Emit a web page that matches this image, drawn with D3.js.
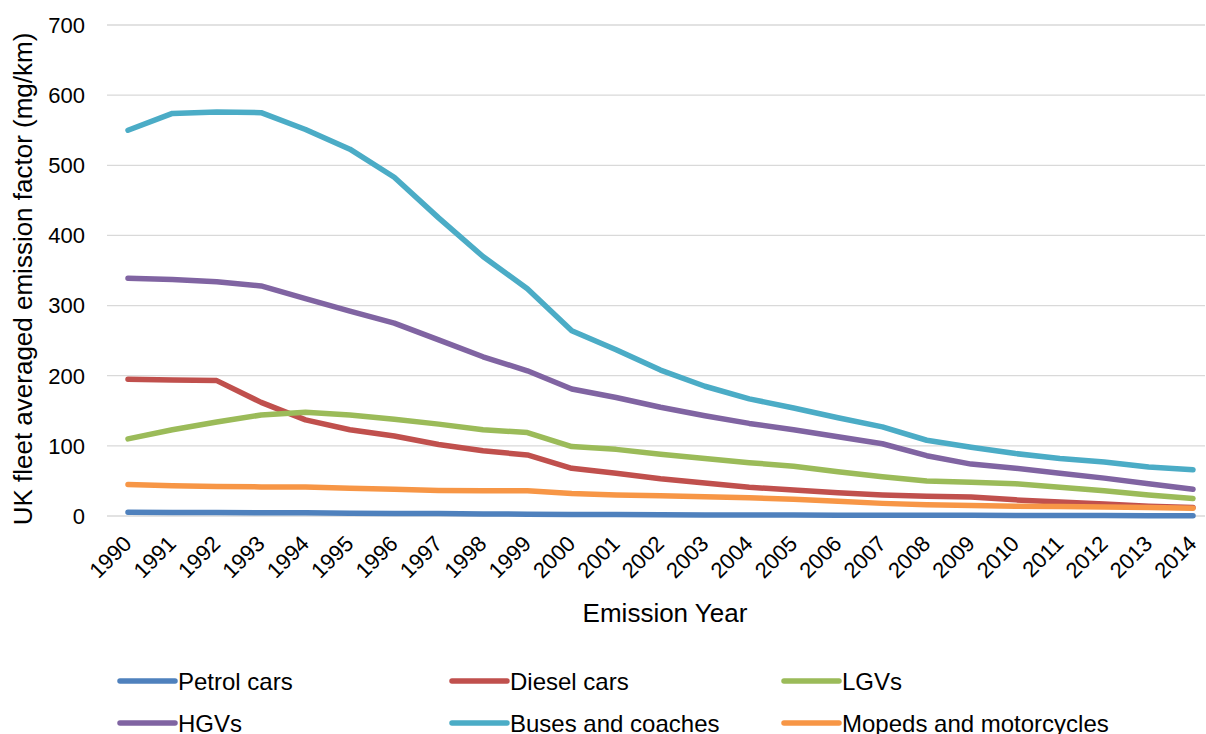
<!DOCTYPE html>
<html>
<head>
<meta charset="utf-8">
<script src="https://cdn.jsdelivr.net/npm/d3@7"></script>
<style>
  body { margin: 0; background: #fff; }
  text { font-family: "Liberation Sans", Arial, sans-serif; fill: #000; }
</style>
</head>
<body>
<div class="vis-chart"></div>
<script>
const years = d3.range(1990, 2015).map(String)
const yTicks = [0, 100, 200, 300, 400, 500, 600, 700]

const seriesNames = ['Petrol cars', 'Diesel cars', 'LGVs', 'HGVs', 'Buses and coaches', 'Mopeds and motorcycles']
const seriesColors = ['#4F81BD', '#C0504D', '#9BBB59', '#8064A2', '#4BACC6', '#F79646']

const petrol = [5.5, 5, 5, 4.5, 4.5, 4, 3.5, 3.5, 3, 2.5, 2, 2, 1.8, 1.6, 1.5, 1.3, 1.2, 1.1, 1, 0.9, 0.8, 0.7, 0.6, 0.5, 0.5]
const diesel = [195, 194, 193, 162, 137, 123, 114, 102, 93, 87, 68, 61, 53, 47, 41, 37, 33, 30, 28, 27, 23, 20, 17, 14, 12]
const lgvs = [110, 123, 134, 144, 148, 144, 138, 131, 123, 119, 99, 95, 88, 82, 76, 71, 63, 56, 50, 48, 46, 41, 36, 30, 25]
const hgvs = [339, 337, 334, 328, 310, 292, 275, 251, 227, 207, 181, 169, 155, 143, 132, 123, 113, 103, 86, 74, 68, 61, 54, 46, 38]
const buses = [550, 574, 576, 575, 551, 523, 483, 425, 370, 324, 264, 237, 208, 185, 167, 154, 140, 127, 108, 98, 89, 82, 77, 70, 66]
const mopeds = [45, 43, 42, 41.5, 41.5, 39.5, 38, 36.5, 36, 36, 32, 30, 29, 27.5, 26, 24, 21, 18, 16, 15, 14, 13.5, 13, 12, 11]

const seriesValues = [petrol, diesel, lgvs, hgvs, buses, mopeds]

const width = 1206, height = 734
const grid = { left: 107, right: 1205 }

const svg = d3.select('.vis-chart').append('svg')
    .attr('width', width)
    .attr('height', height)

const xScale = d3.scalePoint()
    .domain(years)
    .range([128, 1193])

const yScale = d3.scaleLinear()
    .domain([0, 700])
    .range([516, 25])

// gridlines
svg.append('g')
    .selectAll('line')
    .data(yTicks)
    .enter().append('line')
    .attr('x1', grid.left)
    .attr('x2', grid.right)
    .attr('y1', d => yScale(d))
    .attr('y2', d => yScale(d))
    .attr('stroke', '#d9d9d9')
    .attr('stroke-width', 1.3)

// y tick labels
svg.append('g')
    .selectAll('text')
    .data(yTicks)
    .enter().append('text')
    .attr('x', 85)
    .attr('y', d => yScale(d))
    .attr('dy', '0.36em')
    .attr('text-anchor', 'end')
    .style('font-size', '22px')
    .text(d => d)

// x tick labels, rotated
svg.append('g')
    .selectAll('text')
    .data(years)
    .enter().append('text')
    .attr('text-anchor', 'end')
    .attr('transform', d => 'translate(' + (xScale(d) + 5) + ',545)rotate(-45)')
    .style('font-size', '22px')
    .text(d => d)

// axis titles
svg.append('text')
    .attr('text-anchor', 'middle')
    .attr('transform', 'translate(32,279)rotate(-90)')
    .style('font-size', '26px')
    .text('UK fleet averaged emission factor (mg/km)')

svg.append('text')
    .attr('text-anchor', 'middle')
    .attr('x', 665)
    .attr('y', 622)
    .style('font-size', '26px')
    .text('Emission Year')

// lines
const line = d3.line()
    .x((d, i) => xScale(years[i]))
    .y(d => yScale(d))

svg.append('g')
    .selectAll('path')
    .data(seriesValues)
    .enter().append('path')
    .attr('d', d => line(d))
    .attr('fill', 'none')
    .attr('stroke', (d, i) => seriesColors[i])
    .attr('stroke-width', 5.5)
    .attr('stroke-linejoin', 'round')
    .attr('stroke-linecap', 'round')

// legend
const legendX = [120, 452, 784]
const legendY = [681, 723]

const legend = svg.append('g')
    .selectAll('g')
    .data(seriesNames)
    .enter().append('g')
    .attr('transform', (d, i) => 'translate(' + legendX[i % 3] + ',' + legendY[Math.floor(i / 3)] + ')')

legend.append('line')
    .attr('x1', 0)
    .attr('x2', 55)
    .attr('stroke', (d, i) => seriesColors[i])
    .attr('stroke-width', 5.5)
    .attr('stroke-linecap', 'round')

legend.append('text')
    .attr('x', 58)
    .attr('dy', '0.36em')
    .style('font-size', '24px')
    .text(d => d)
</script>
</body>
</html>
